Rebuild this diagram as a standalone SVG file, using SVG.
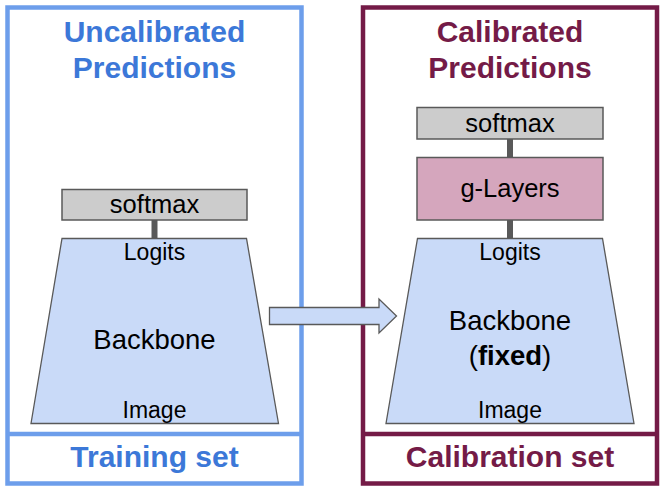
<svg xmlns="http://www.w3.org/2000/svg" width="664" height="495" viewBox="0 0 664 495">
<style>
text{font-family:"Liberation Sans",Arial,sans-serif;text-anchor:middle;fill:#000}
.frameL{fill:none;stroke:#6d9eeb;stroke-width:4.5}
.frameR{fill:none;stroke:#741b47;stroke-width:4.5}
.titleL{fill:#3c78d8;font-weight:bold;font-size:30px}
.titleR{fill:#741b47;font-weight:bold;font-size:30px}
.soft{fill:#cccccc;stroke:#595959;stroke-width:1.5}
.glay{fill:#d5a6bd;stroke:#595959;stroke-width:1.5}
.bb{fill:#c9daf8;stroke:#595959;stroke-width:1.3}
.lbl{font-size:25.5px}
.small{font-size:23px}
.big{font-size:27.5px}
.conn{stroke:#595959;stroke-width:6}
</style>
<g id="frame-left">
<rect class="frameL" x="7.5" y="7.5" width="294" height="476"/>
<line class="frameL" x1="7.5" y1="434" x2="301.5" y2="434"/>
<text class="titleL" x="154.5" y="42">Uncalibrated</text>
<text class="titleL" x="154.5" y="78">Predictions</text>
<text class="titleL" x="154.5" y="467">Training set</text>
</g>
<g id="frame-right">
<rect class="frameR" x="363" y="7.5" width="294" height="476"/>
<line class="frameR" x1="363" y1="434" x2="657" y2="434"/>
<text class="titleR" x="510" y="42">Calibrated</text>
<text class="titleR" x="510" y="78">Predictions</text>
<text class="titleR" x="510" y="467">Calibration set</text>
</g>
<g id="connectors">
<line class="conn" x1="154.5" y1="220" x2="154.5" y2="238.5"/>
<line class="conn" x1="510" y1="139" x2="510" y2="157.5"/>
<line class="conn" x1="510" y1="220" x2="510" y2="238.5"/>
<path id="transfer-arrow" class="bb" d="M269.5,307.5 H379 V299 L396.5,316 L379,333 V324.5 H269.5 Z"/>
</g>
<g id="softmax-left">
<rect class="soft" x="62" y="189.5" width="185" height="30.5"/>
<text class="lbl" x="154.5" y="213">softmax</text>
</g>
<g id="backbone-left">
<polygon class="bb" points="62,238.5 246.5,238.5 278.5,423.5 31,423.5"/>
<text class="small" x="154.5" y="260">Logits</text>
<text class="big" x="154.5" y="348.5">Backbone</text>
<text class="small" x="154.5" y="418">Image</text>
</g>
<g id="softmax-right">
<rect class="soft" x="417" y="107.5" width="186" height="31.5"/>
<text class="lbl" x="510" y="131.5">softmax</text>
</g>
<g id="glayers">
<rect class="glay" x="417" y="157.5" width="186" height="62.5"/>
<text class="lbl" x="510" y="197">g-Layers</text>
</g>
<g id="backbone-right">
<polygon class="bb" points="417.5,238.5 602.5,238.5 634,423.5 386,423.5"/>
<text class="small" x="510" y="260">Logits</text>
<text class="big" x="510" y="330">Backbone</text>
<text class="big" x="510" y="365">(<tspan font-weight="bold">fixed</tspan>)</text>
<text class="small" x="510" y="418">Image</text>
</g>
</svg>
